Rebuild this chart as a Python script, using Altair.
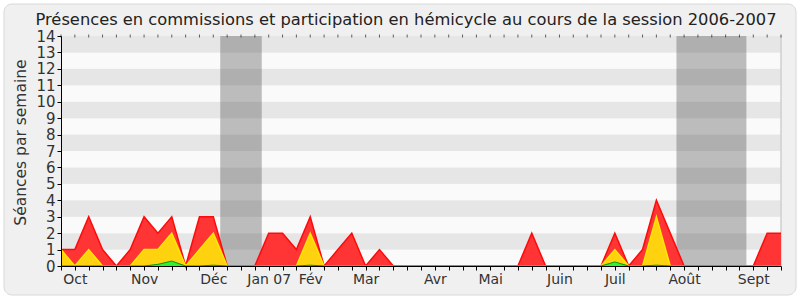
import altair as alt
import pandas as pd

# Weekly values (53 weeks, session 2006-2007)
weeks = list(range(53))
red_vals = [1, 1, 3, 1, 0, 1, 3, 2, 3, 0, 3, 3, 0, 0, 0, 2, 2, 1, 3, 0,
            1, 2, 0, 1, 0, 0, 0, 0, 0, 0, 0, 0, 0, 0, 2, 0, 0, 0, 0, 0,
            2, 0, 1, 4, 2, 0, 0, 0, 0, 0, 0, 2, 2]
yellow_vals = [1, 0, 1, 0, 0, 0, 1, 1, 2, 0, 1, 2, 0, 0, 0, 0, 0, 0, 2, 0,
               0, 0, 0, 0, 0, 0, 0, 0, 0, 0, 0, 0, 0, 0, 0, 0, 0, 0, 0, 0,
               1, 0, 0, 3, 0, 0, 0, 0, 0, 0, 0, 0, 0]
green_vals = [0, 0, 0, 0, 0, 0, 0, 0.1, 0.3, 0, 0, 0.05, 0, 0, 0, 0, 0, 0, 0.05, 0,
              0, 0, 0, 0, 0, 0, 0, 0, 0, 0, 0, 0, 0, 0, 0, 0, 0, 0, 0, 0,
              0.25, 0, 0, 0.05, 0, 0, 0, 0, 0, 0, 0, 0, 0]

month_labels = ["Oct", "Nov", "Déc", "Jan 07", "Fév", "Mar", "Avr", "Mai",
                "Juin", "Juil", "Août", "Sept"]
month_weeks = [1, 6, 11, 15, 18, 22, 27, 31, 36, 40, 45, 50]

vac_start = [11.5, 44.45]
vac_end = [14.5, 49.5]

y_ticks = list(range(15))

title_text = "Présences en commissions et participation en hémicycle au cours de la session 2006-2007"
y_title = "Séances par semaine"

FONT = "DejaVu Sans"

df = pd.DataFrame({"w": weeks, "red": red_vals, "yellow": yellow_vals, "green": green_vals})
bands = pd.DataFrame({"lo": y_ticks[:-1], "hi": y_ticks[1:],
                      "c": ["#fafafa" if k % 2 == 0 else "#e6e6e6" for k in y_ticks[:-1]]})
vac = pd.DataFrame({"s": vac_start, "e": vac_end})

label_expr = "".join(f"datum.value == {w} ? '{l}' : " for w, l in zip(month_weeks, month_labels)) + "''"

xscale = alt.Scale(domain=[weeks[0], weeks[-1]], nice=False, zero=False)
yscale = alt.Scale(domain=[y_ticks[0], y_ticks[-1]], nice=False)

xaxis = alt.Axis(values=weeks, labelExpr=label_expr, tickSize=4, tickColor="#000000",
                 domainColor="#000000", labelColor="#333333", labelFontSize=14,
                 labelFont=FONT, labelOverlap=False, labelFlush=False, grid=False,
                 title=None, zindex=2, labelPadding=2)
yaxis = alt.Axis(values=y_ticks, tickSize=4, tickColor="#000000", domainColor="#000000",
                 labelColor="#333333", labelFontSize=15, labelFont=FONT, grid=False,
                 labelOverlap=False, labelFlush=False,
                 title=y_title, titleFont=FONT, titleFontSize=15.5, titleFontWeight="normal",
                 titleColor="#333333", titlePadding=7, titleY=106, zindex=2, labelPadding=2)

decor = alt.Chart(pd.DataFrame({"a": [0]})).mark_rect(
    fill="#f0f0f0", stroke="#d8d8d8", strokeWidth=1, cornerRadius=8
).encode(x=alt.value(-57), x2=alt.value(735), y=alt.value(-32), y2=alt.value(259))

band_layer = alt.Chart(bands).mark_rect().encode(
    x=alt.value(0), x2=alt.value(720),
    y=alt.Y("lo:Q", scale=yscale, axis=yaxis), y2="hi:Q",
    color=alt.Color("c:N", scale=None)
)

vac_layer = alt.Chart(vac).mark_rect(color="#404040", opacity=0.33).encode(
    x=alt.X("s:Q", scale=xscale, axis=xaxis), x2="e:Q",
    y=alt.value(0), y2=alt.value(230)
)

right_edge = alt.Chart(pd.DataFrame({"a": [0]})).mark_rule(color="#cfcfcf", strokeWidth=1.5).encode(
    x=alt.XDatum(weeks[-1], scale=xscale, axis=xaxis),
    y=alt.YDatum(y_ticks[0], scale=yscale, axis=yaxis), y2=alt.Y2Datum(y_ticks[-1])
)

top_ticks = alt.Chart(df).mark_tick(orient="vertical", size=3, thickness=1, color="#222222").encode(
    x=alt.X("w:Q", scale=xscale, axis=xaxis),
    y=alt.YDatum(y_ticks[-1], scale=yscale, axis=yaxis)
)

red = alt.Chart(df).mark_area(color="#ff3535", opacity=1,
                              line={"color": "#ff0a0a", "strokeWidth": 1.5}).encode(
    x=alt.X("w:Q", scale=xscale, axis=xaxis), y=alt.Y("red:Q", scale=yscale, axis=yaxis)
)
yellow = alt.Chart(df).mark_area(color="#ffd20f", opacity=1,
                                 line={"color": "#ffe800", "strokeWidth": 1.5}).encode(
    x=alt.X("w:Q", scale=xscale, axis=xaxis), y=alt.Y("yellow:Q", scale=yscale, axis=yaxis)
)
green = alt.Chart(df).mark_area(color="#33ee33", opacity=1,
                                line={"color": "#009900", "strokeWidth": 1}).encode(
    x=alt.X("w:Q", scale=xscale, axis=xaxis), y=alt.Y("green:Q", scale=yscale, axis=yaxis)
)

title = alt.Chart(pd.DataFrame({"t": [title_text]})).mark_text(
    font=FONT, fontSize=16.3, color="#222222", align="center", baseline="alphabetic"
).encode(text="t:N", x=alt.value(345), y=alt.value(-11))

chart = alt.layer(decor, band_layer, vac_layer, right_edge, top_ticks, red, yellow, green, title).properties(
    width=720, height=230,
    autosize=alt.AutoSizeParams(type="none"),
    padding={"left": 61, "right": 19, "top": 36, "bottom": 34},
    background="#ffffff"
).configure_view(stroke=None).configure_axis(labelOverlap=False)

chart.save("out.html", embed_options={"renderer": "svg", "actions": False})
